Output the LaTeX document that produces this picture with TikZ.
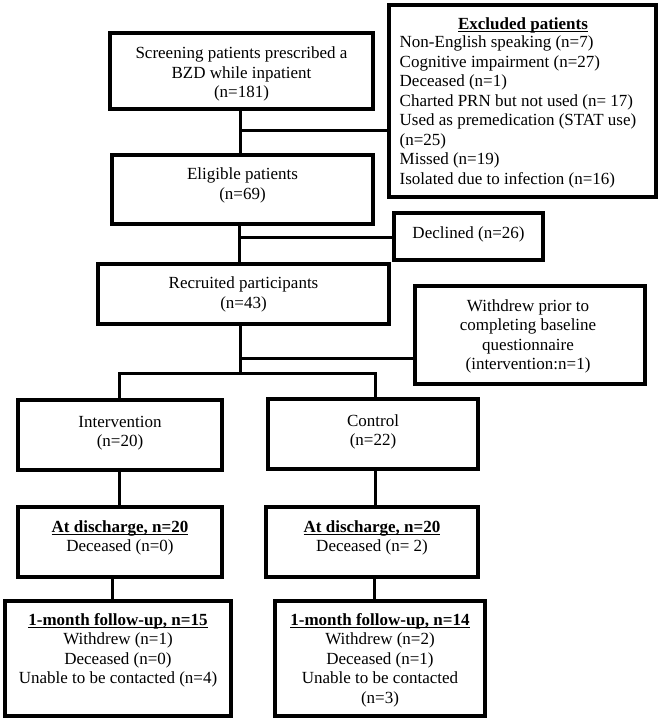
\documentclass[tikz,border=0pt]{standalone}
\usepackage{fontspec}
\setmainfont{Liberation Serif}
\newcommand{\hdr}[1]{\setbox0\hbox{\textbf{#1}}\rlap{\rule[-2.4pt]{\wd0}{0.9pt}}\box0}
\begin{document}
\begin{tikzpicture}[x=1pt,y=-1pt,
  box/.style={draw, line width=3.2pt, inner sep=0pt},
  txt/.style={font=\fontsize{17}{19.5}\selectfont, align=center, inner sep=0pt},
  conn/.style={draw, line width=3pt}]
\path[fill=white, use as bounding box] (0,0) rectangle (659,719);
% boxes
\node[box, minimum width=263pt, minimum height=76pt] (scr) at (241.5,71) {};
\node[txt] (scrT) at (241.5,74) {Screening patients prescribed a\\BZD while inpatient\\(n=181)};
\node[box, minimum width=267pt, minimum height=192pt] (exc) at (522.5,101) {};
\node[txt] (excT) at (523,25) {\hdr{Excluded patients}};
\node[txt, align=left, anchor=west] (excL) at (399.5,112) {Non-English speaking (n=7)\\Cognitive impairment (n=27)\\Deceased (n=1)\\Charted PRN but not used (n= 17)\\Used as premedication (STAT use)\\(n=25)\\Missed (n=19)\\Isolated due to infection (n=16)};
\node[box, minimum width=261pt, minimum height=69pt] (eli) at (242.5,189.5) {};
\node[txt] (eliT) at (242.5,185.5) {Eligible patients\\(n=69)};
\node[box, minimum width=149pt, minimum height=47pt] (dec) at (468.5,236.5) {};
\node[txt] (decT) at (468.5,234) {Declined (n=26)};
\node[box, minimum width=291pt, minimum height=60pt] (rec) at (243.5,294) {};
\node[txt] (recT) at (243.5,294.5) {Recruited participants\\(n=43)};
\node[box, minimum width=230pt, minimum height=98pt] (wd) at (530,335) {};
\node[txt] (wdT) at (528,336.5) {Withdrew prior to\\completing baseline\\questionnaire\\(intervention:n=1)};
\node[box, minimum width=204pt, minimum height=70pt] (int) at (120,435) {};
\node[txt] (intT) at (120,433) {Intervention\\(n=20)};
\node[box, minimum width=210pt, minimum height=70pt] (con) at (373,434) {};
\node[txt] (conT) at (373,432) {Control\\(n=22)};
\node[box, minimum width=204pt, minimum height=70pt] (disL) at (120,542) {};
\node[txt] (disLT) at (120,538) {\hdr{At discharge, n=20}\\Deceased (n=0)};
\node[box, minimum width=212pt, minimum height=70pt] (disR) at (372,542) {};
\node[txt] (disRT) at (372,538) {\hdr{At discharge, n=20}\\Deceased (n= 2)};
\node[box, minimum width=226pt, minimum height=115pt] (botL) at (118,658.5) {};
\node[txt] (botLT) at (118,650.5) {\hdr{1-month follow-up, n=15}\\Withdrew (n=1)\\Deceased (n=0)\\Unable to be contacted (n=4)};
\node[box, minimum width=210pt, minimum height=115pt] (botR) at (380,658.5) {};
\node[txt] (botRT) at (380,660) {\hdr{1-month follow-up, n=14}\\Withdrew (n=2)\\Deceased (n=1)\\Unable to be contacted\\(n=3)};
% connectors
\coordinate (j1) at (240,131);
\draw[conn] (scr.south -| j1) -- (eli.north -| j1);
\draw[conn] (j1) -- (j1 -| exc.west);
\coordinate (j2) at (239,237);
\draw[conn] (eli.south -| j2) -- (rec.north -| j2);
\draw[conn] (j2) -- (j2 -| dec.west);
\coordinate (j3) at (240,358);
\coordinate (j4) at (240,373);
\draw[conn] (rec.south -| j3) -- (j4);
\draw[conn] (j3) -- (j3 -| wd.west);
\coordinate (bl) at (119,373);
\coordinate (br) at (375,373);
\draw[conn] (int.north -| bl) -- (bl) -- (br) -- (con.north -| br);
\draw[conn] (int.south -| bl) -- (disL.north -| bl);
\draw[conn] (con.south -| br) -- (disR.north -| br);
\coordinate (cl) at (112,590);
\coordinate (cr) at (374,590);
\draw[conn] (disL.south -| cl) -- (botL.north -| cl);
\draw[conn] (disR.south -| cr) -- (botR.north -| cr);
\end{tikzpicture}
\end{document}
